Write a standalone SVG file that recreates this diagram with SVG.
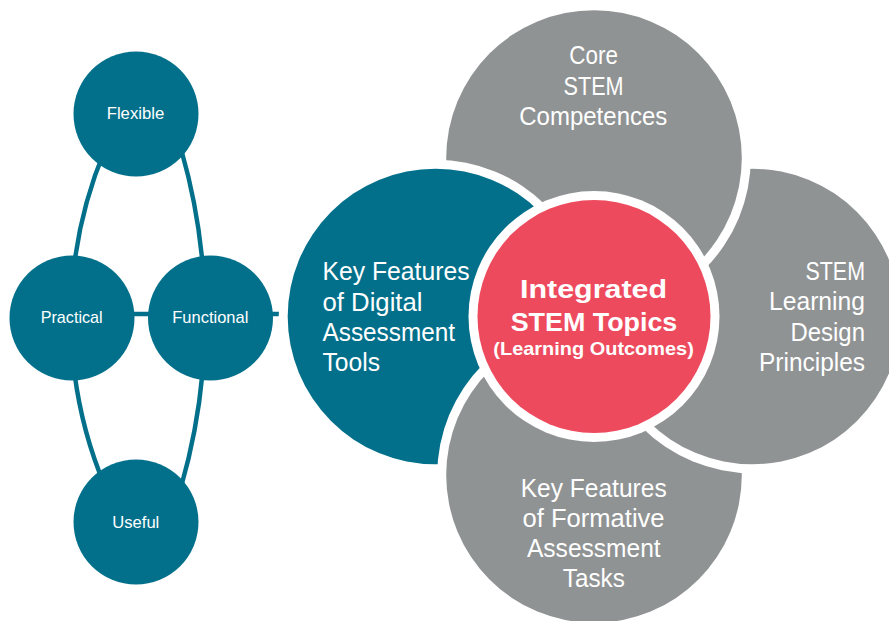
<svg xmlns="http://www.w3.org/2000/svg" width="889" height="621" viewBox="0 0 889 621">
  <style>
    .teal { fill: #03708B; }
    .grey { fill: #909394; }
    .red { fill: #EE4A5E; }
    .halo { fill: #FFFFFF; }
    .conn { fill: none; stroke: #03708B; stroke-width: 4.5; }
    .small { font-family: "Liberation Sans", Arial, sans-serif; font-size: 17px; fill: #FFFFFF; text-anchor: middle; }
    .petal { font-family: "Liberation Sans", Arial, sans-serif; font-size: 25px; fill: #FFFFFF; }
    .core { font-family: "Liberation Sans", Arial, sans-serif; font-weight: 700; fill: #FFFFFF; text-anchor: middle; }
  </style>
  <defs>
    <clipPath id="clipRight">
      <path clip-rule="evenodd" d="M0,0H889V621H0Z M437.2,158 a156.8,156.8 0 1,0 313.6,0 a156.8,156.8 0 1,0 -313.6,0Z"/>
    </clipPath>
  </defs>
  <rect width="889" height="621" fill="#FFFFFF"/>

  <g id="connectors">
    <path class="conn" d="M104.8,150 A434,434 0 0 0 74.6,262"/>
    <path class="conn" d="M74.6,374 A434,434 0 0 0 104.8,486"/>
    <path class="conn" d="M181.3,150 A607.5,607.5 0 0 1 202.4,262"/>
    <path class="conn" d="M202.4,374 A607.5,607.5 0 0 1 181.3,486"/>
    <line class="conn" x1="110" y1="314" x2="180" y2="314"/>
    <line class="conn" x1="250" y1="314" x2="300" y2="314"/>
  </g>

  <g id="node-flexible">
    <circle class="teal" cx="136" cy="114" r="62.5"/>
    <text class="small" x="135.5" y="119" textLength="57.6" lengthAdjust="spacingAndGlyphs">Flexible</text>
  </g>
  <g id="node-practical">
    <circle class="teal" cx="72" cy="318" r="62.5"/>
    <text class="small" x="71.7" y="323.3" textLength="62" lengthAdjust="spacingAndGlyphs">Practical</text>
  </g>
  <g id="node-functional">
    <circle class="teal" cx="210.5" cy="318" r="62.5"/>
    <text class="small" x="210.3" y="323.3" textLength="76" lengthAdjust="spacingAndGlyphs">Functional</text>
  </g>
  <g id="node-useful">
    <circle class="teal" cx="136" cy="522" r="62.5"/>
    <text class="small" x="135.8" y="528.3" textLength="47" lengthAdjust="spacingAndGlyphs">Useful</text>
  </g>

  <g id="node-core-stem">
    <circle class="halo" cx="594" cy="158" r="156.8"/>
    <circle class="grey" cx="594" cy="158" r="147.8"/>
    <g class="petal" text-anchor="middle">
      <text x="593.6" y="64" textLength="48.6" lengthAdjust="spacingAndGlyphs">Core</text>
      <text x="593.6" y="94.5" textLength="60" lengthAdjust="spacingAndGlyphs">STEM</text>
      <text x="593.3" y="125" textLength="148" lengthAdjust="spacingAndGlyphs">Competences</text>
    </g>
  </g>

  <g id="node-digital-tools">
    <circle class="halo" cx="435.5" cy="316.5" r="156.8"/>
    <circle class="teal" cx="435.5" cy="316.5" r="147.8"/>
    <g class="petal" text-anchor="start">
      <text x="322.5" y="280" textLength="147" lengthAdjust="spacingAndGlyphs">Key Features</text>
      <text x="322.5" y="310.5" textLength="100" lengthAdjust="spacingAndGlyphs">of Digital</text>
      <text x="322.5" y="340.7" textLength="132.5" lengthAdjust="spacingAndGlyphs">Assessment</text>
      <text x="322.5" y="370.7" textLength="57.5" lengthAdjust="spacingAndGlyphs">Tools</text>
    </g>
  </g>

  <g id="node-formative">
    <circle class="halo" cx="594" cy="475" r="156.8"/>
    <circle class="grey" cx="594" cy="475" r="147.8"/>
    <g class="petal" text-anchor="middle">
      <text x="593.7" y="496.7" textLength="146" lengthAdjust="spacingAndGlyphs">Key Features</text>
      <text x="593.6" y="526.7" textLength="142" lengthAdjust="spacingAndGlyphs">of Formative</text>
      <text x="593.8" y="556.7" textLength="133.6" lengthAdjust="spacingAndGlyphs">Assessment</text>
      <text x="593.8" y="587.3" textLength="62" lengthAdjust="spacingAndGlyphs">Tasks</text>
    </g>
  </g>

  <g id="node-learning-design">
    <g clip-path="url(#clipRight)">
      <circle class="halo" cx="752.5" cy="316.5" r="156.8"/>
      <circle class="grey" cx="752.5" cy="316.5" r="147.8"/>
    </g>
    <g class="petal" text-anchor="end">
      <text x="865" y="279.5" textLength="59.5" lengthAdjust="spacingAndGlyphs">STEM</text>
      <text x="865" y="310" textLength="96" lengthAdjust="spacingAndGlyphs">Learning</text>
      <text x="865" y="341.3" textLength="74.5" lengthAdjust="spacingAndGlyphs">Design</text>
      <text x="865" y="371" textLength="106" lengthAdjust="spacingAndGlyphs">Principles</text>
    </g>
  </g>

  <g id="node-integrated">
    <circle class="halo" cx="594" cy="316.5" r="125.5"/>
    <circle class="red" cx="594" cy="316.5" r="116.5"/>
    <text class="core" x="593.5" y="297.5" font-size="26" textLength="147" lengthAdjust="spacingAndGlyphs">Integrated</text>
    <text class="core" x="594" y="331" font-size="26" textLength="166.6" lengthAdjust="spacingAndGlyphs">STEM Topics</text>
    <text class="core" x="593.6" y="355" font-size="19" textLength="200.5" lengthAdjust="spacingAndGlyphs">(Learning Outcomes)</text>
  </g>
</svg>
